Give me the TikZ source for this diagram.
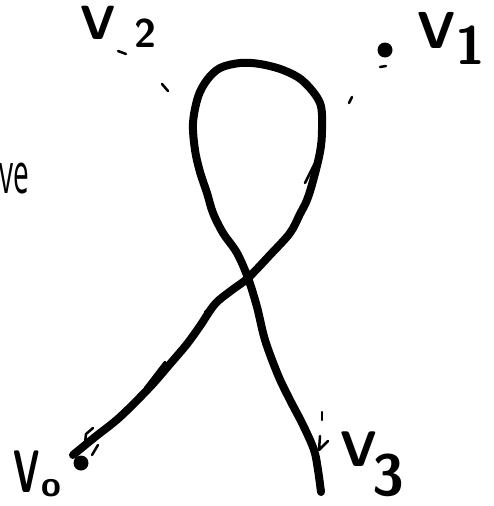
\documentclass[tikz,border=0pt]{standalone}
\usepackage{fontspec}
\newfontfamily\opensans{Open Sans}
\begin{document}
\begin{tikzpicture}[x=1pt,y=-1pt,
  pen/.style={line width=8pt,line cap=round,line join=round},
  thin/.style={line width=2.5pt,line cap=round,line join=round},
  lab/.style={inner sep=0pt,font=\sffamily\bfseries\fontsize{#1}{#1}\selectfont},
  blob/.style={circle,fill=black,inner sep=0pt,minimum size=15pt}]
\useasboundingbox (0,0) rectangle (494,506);
% main curve
\draw[pen] plot[smooth,tension=0.55] coordinates {
 (73,455) (95,437) (120,417) (150,387) (170,364) (187,344) (200,326) (215,304) (232,290) (248,278)
 (270,255) (290,233) (300,214) (307,200) (313,181) (320,152) (322,130) (320,103)
 (303,81) (283,70) (260,64) (240,63) (220,68) (207,80) (198,97) (193,123) (195,150)
 (200,172) (207,193) (213,213) (223,233) (237,253) (248,278)
 (257,307) (265,340) (278,375) (290,400) (303,425) (314,450) (318,470) (321,492)};
% sketchy double strokes
\draw[thin] (145,388) -- (165,362);
\draw[thin] (205,312) -- (229,292);
\draw[thin] (305,183) -- (315,163);
\draw[thin] (85,443) -- (86,434) -- (93,428);
\draw[thin] (92,455) -- (98,445);
% vertices
\node[blob] (d0) at (81,463) {};
\node[blob] (d1) at (385,50) {};
\coordinate (m1) at (380,67);
\draw[thin] (m1) -- ++(6,-1);
\coordinate (m2) at (118,51);
\draw[thin] (m2) -- ++(8,3);
\coordinate (m3) at (162,84);
\draw[thin] (m3) -- ++(6,7);
\coordinate (m4) at (349,103);
\draw[thin] (m4) -- ++(3,-6);
\coordinate (m5) at (322,412);
\draw[thin] (m5) -- ++(0,8);
\draw[thin] (320,436) -- (319,450) -- (328,441);
% labels
\node[lab=48] (l2) at (98,23) {V};
\node[lab=40] (s2) at (145,33) {2};
\node[lab=52] (l1) at (437,30) {V};
\node[lab=54] (s1) at (470,45) {1};
\node[lab=60,xscale=0.6] (l0) at (27,472) {V};
\node[lab=36] (s0) at (51,488) {o};
\node[lab=50] (l3) at (359,449) {V};
\node[lab=58] (s3) at (388,475) {3};
\node[inner sep=0pt,anchor=base west,xscale=0.5,font=\opensans\fontsize{56}{56}\selectfont] (ve) at (-1,193) {ve};
\end{tikzpicture}
\end{document}
